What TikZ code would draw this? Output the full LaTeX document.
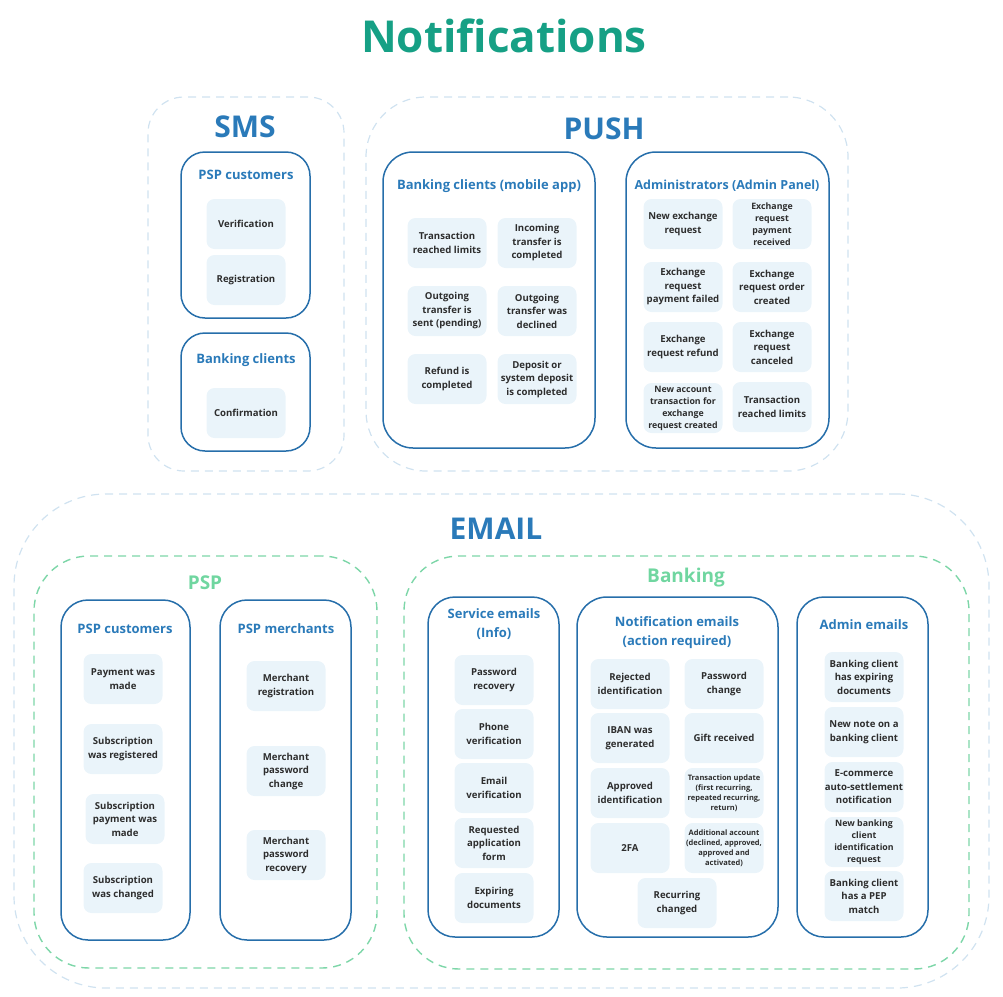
\documentclass[tikz,border=0pt]{standalone}
\usepackage{fontspec}
\setmainfont{Open Sans}
\usepackage{xcolor}
\usepackage{tikz}
\usetikzlibrary{positioning,fit}

\definecolor{titlegreen}{RGB}{22,160,133}
\definecolor{headblue}{RGB}{42,122,185}
\definecolor{boxblue}{RGB}{38,110,170}
\definecolor{zoneblue}{RGB}{208,226,240}
\definecolor{zonegreen}{RGB}{125,214,168}
\definecolor{labelgreen}{RGB}{112,214,160}
\definecolor{cellfill}{RGB}{234,244,250}
\definecolor{celltext}{RGB}{45,45,45}

\begin{document}
\begin{tikzpicture}[x=1pt, y=-1pt,
    every node/.style={font=\bfseries},
    zone/.style={draw=zoneblue, dash pattern=on 8pt off 6pt, line width=1.2pt, rounded corners=#1, inner sep=0pt},
    zone/.default=36pt,
    subzone/.style={draw=zonegreen, dash pattern=on 8pt off 6pt, line width=1.4pt, rounded corners=55pt, inner sep=0pt},
    grp/.style={draw=boxblue, line width=1.5pt, rounded corners=#1, inner sep=0pt},
    grp/.default=24pt,
    head/.style={text=headblue, font=\fontsize{30}{34}\selectfont\bfseries},
    subhead/.style={text=labelgreen, font=\fontsize{19}{22}\selectfont\bfseries},
    grptitle/.style={text=headblue, align=center, font=\fontsize{13}{19}\selectfont\bfseries},
    cell/.style={fill=cellfill, rounded corners=8pt, minimum width=79pt, minimum height=50pt, inner sep=0pt,
        align=center, text=celltext, font=\fontsize{9.6}{13.5}\selectfont\bfseries},
    tinycell/.style={cell, font=\fontsize{8.8}{12}\selectfont\bfseries},
    smallcell/.style={cell, font=\fontsize{7.5}{10}\selectfont\bfseries}
]
\useasboundingbox (0,0) rectangle (1003,996);

\node[text=titlegreen, font=\fontsize{44}{50}\selectfont\bfseries] (title) at (504,36) {Notifications};

% SMS
\node[zone=36pt, fit={(148,97) (344,471)}] (smszone) {};
\node[head] (smshead) at (245,127) {SMS};
\node[grp, fit={(181,152) (310,318)}] (smspsp) {};
\node[grptitle] (smspsptitle) at (246,175) {PSP customers};
\node[cell] (verif) at (246,224) {Verification};
\node[cell] (regist) at (246,280) {Registration};
\node[grp, fit={(181,333) (310,451)}] (smsbank) {};
\node[grptitle] (smsbanktitle) at (246,360) {Banking clients};
\node[cell] (confirm) at (246,413) {Confirmation};

% PUSH
\node[zone=60pt, fit={(366,97) (848,471)}] (pushzone) {};
\node[head] (pushhead) at (604,129) {PUSH};
\node[grp=30pt, fit={(383,152) (595,448)}] (mobile) {};
\node[grptitle] (mobiletitle) at (489,186) {Banking clients (mobile app)};
\node[cell] (m1) at (447,243) {Transaction\\reached limits};
\node[cell] (m2) at (537,243) {Incoming\\transfer is\\completed};
\node[cell] (m3) at (447,311) {Outgoing\\transfer is\\sent (pending)};
\node[cell] (m4) at (537,311) {Outgoing\\transfer was\\declined};
\node[cell] (m5) at (447,379) {Refund is\\completed};
\node[cell] (m6) at (537,379) {Deposit or\\system deposit\\is completed};
\node[grp=30pt, fit={(626,152) (829,448)}] (admin) {};
\node[grptitle, font=\fontsize{12.5}{19}\selectfont\bfseries] (admintitle) at (727,186) {Administrators (Admin Panel)};
\node[cell] (a1) at (683,224) {New exchange\\request};
\node[tinycell] (a2) at (772,224) {Exchange\\request\\payment\\received};
\node[cell] (a3) at (683,287) {Exchange\\request\\payment failed};
\node[cell] (a4) at (772,287) {Exchange\\request order\\created};
\node[cell] (a5) at (683,347) {Exchange\\request refund};
\node[cell] (a6) at (772,347) {Exchange\\request\\canceled};
\node[tinycell] (a7) at (683,408) {New account\\transaction for\\exchange\\request created};
\node[cell] (a8) at (772,407) {Transaction\\reached limits};

% EMAIL
\node[zone=92pt, fit={(14,494) (989,988)}] (emailzone) {};
\node[head] (emailhead) at (496,529) {EMAIL};

% EMAIL / PSP
\node[subzone, fit={(34,556) (377,968)}] (pspzone) {};
\node[subhead] (psphead) at (205,583) {PSP};
\node[grp=27pt, fit={(61,600) (190,940)}] (pspcust) {};
\node[grptitle] (pspcusttitle) at (125,629) {PSP customers};
\node[cell] (c1) at (123,679) {Payment was\\made};
\node[cell] (c2) at (123,749) {Subscription\\was registered};
\node[cell] (c3) at (125,819) {Subscription\\payment was\\made};
\node[cell] (c4) at (123,888) {Subscription\\was changed};
\node[grp=27pt, fit={(220,600) (351,940)}] (pspmerch) {};
\node[grptitle] (pspmerchtitle) at (286,629) {PSP merchants};
\node[cell] (p1) at (286,686) {Merchant\\registration};
\node[cell] (p2) at (286,771) {Merchant\\password\\change};
\node[cell] (p3) at (286,855) {Merchant\\password\\recovery};

% EMAIL / Banking
\node[subzone, fit={(404,556) (969,969)}] (bankzone) {};
\node[subhead] (bankhead) at (686,578) {Banking};
\node[grp=27pt, fit={(428,597) (559,937)}] (service) {};
\node[grptitle] (servicetitle) at (494,624) {Service emails\\(Info)};
\node[cell] (s1) at (494,680) {Password\\recovery};
\node[cell] (s2) at (494,734) {Phone\\verification};
\node[cell] (s3) at (494,788) {Email\\verification};
\node[cell] (s4) at (494,843) {Requested\\application\\form};
\node[cell] (s5) at (494,898) {Expiring\\documents};
\node[grp=30pt, fit={(577,597) (778,937)}] (action) {};
\node[grptitle] (actiontitle) at (677,633) {Notification emails\\(action required)};
\node[cell] (n1) at (630,684) {Rejected\\identification};
\node[cell] (n2) at (724,684) {Password\\change};
\node[cell] (n3) at (630,738) {IBAN was\\generated};
\node[cell] (n4) at (724,738) {Gift received};
\node[cell] (n5) at (630,793) {Approved\\identification};
\node[smallcell] (n6) at (724,793) {Transaction update\\(first recurring,\\repeated recurring,\\return)};
\node[cell] (n7) at (630,848) {2FA};
\node[smallcell] (n8) at (724,848) {Additional account\\(declined, approved,\\approved and\\activated)};
\node[cell] (n9) at (677,903) {Recurring\\changed};
\node[grp=27pt, fit={(797,597) (928,937)}] (adminmail) {};
\node[grptitle] (adminmailtitle) at (864,625) {Admin emails};
\node[cell] (e1) at (864,677) {Banking client\\has expiring\\documents};
\node[cell] (e2) at (864,732) {New note on a\\banking client};
\node[cell] (e3) at (864,787) {E-commerce\\auto-settlement\\notification};
\node[tinycell] (e4) at (864,842) {New banking\\client\\identification\\request};
\node[cell] (e5) at (864,896) {Banking client\\has a PEP\\match};
\end{tikzpicture}
\end{document}
